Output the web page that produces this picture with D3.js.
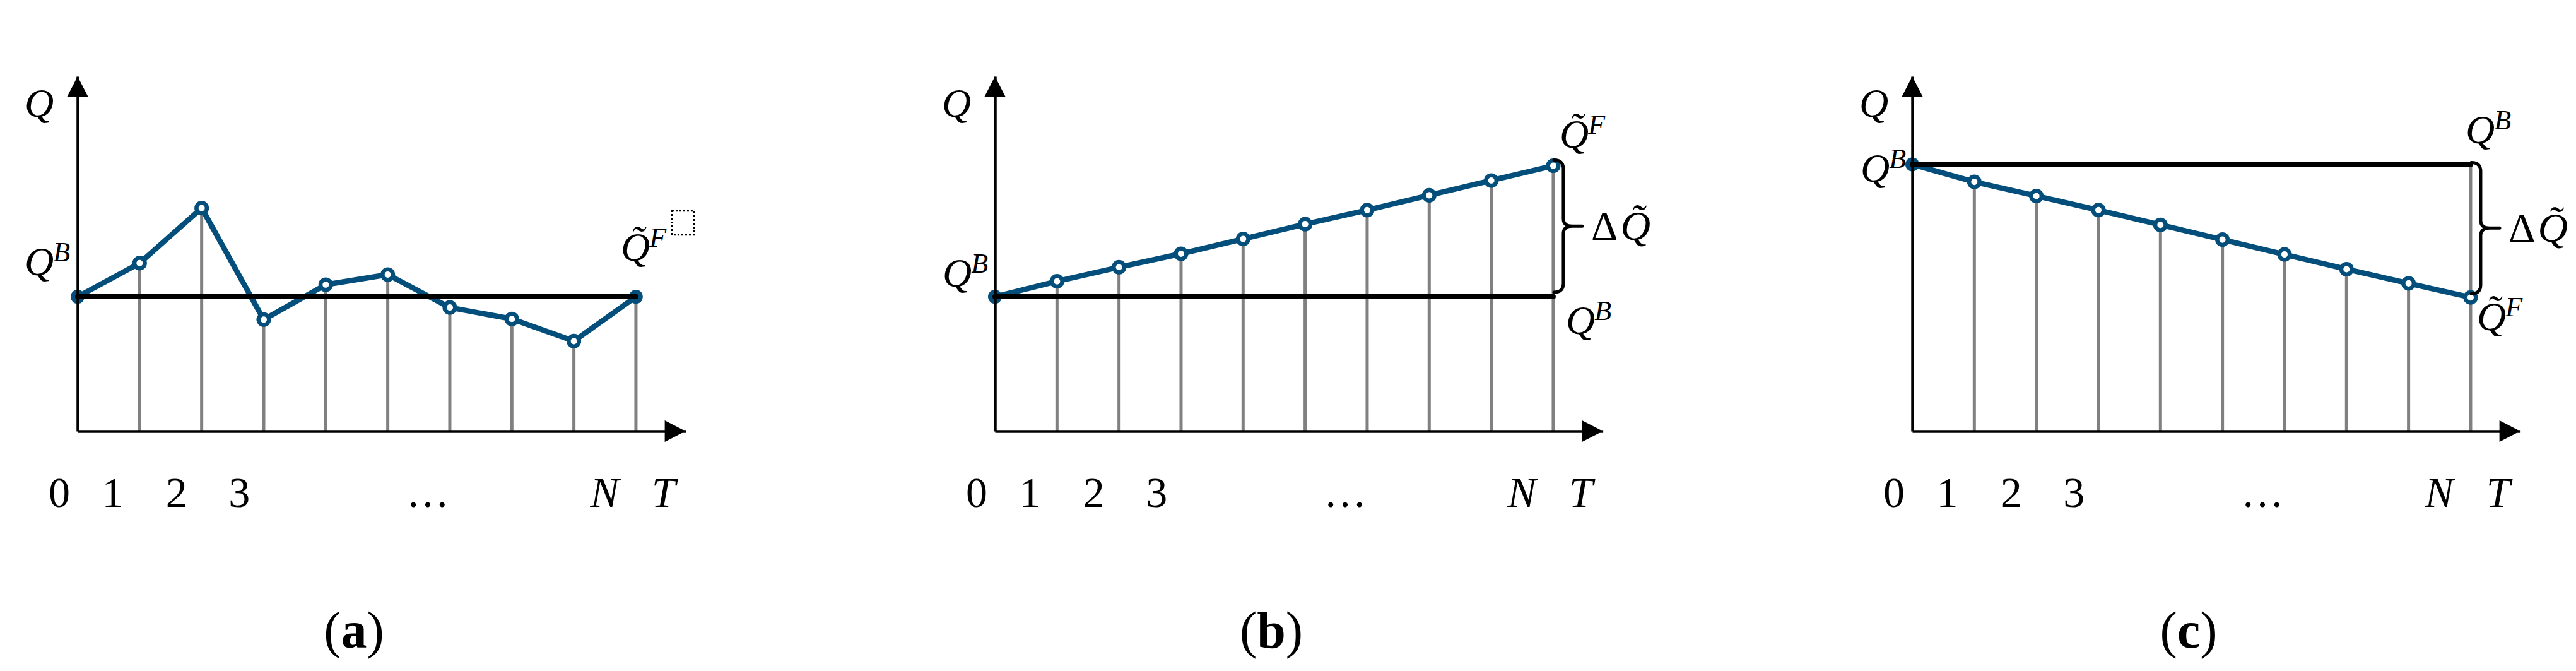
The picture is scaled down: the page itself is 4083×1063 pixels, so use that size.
<!DOCTYPE html>
<html>
<head>
<meta charset="utf-8">
<script src="https://cdn.jsdelivr.net/npm/d3@7"></script>
<style>
  html, body { margin: 0; padding: 0; background: #fff; }
  svg { display: block; }
</style>
</head>
<body>
<svg id="chart" width="4083" height="1063"></svg>
<script>
// ---------- data ----------
const panels = ["a", "b", "c"];
const steps = [0, 1, 2, 3, 4, 5, 6, 7, 8, 9];
const seriesA = [10, 12.5, 16.6, 8.3, 10.9, 11.65, 9.2, 8.35, 6.7, 10];
const seriesB = [10, 11.15, 12.2, 13.2, 14.3, 15.4, 16.45, 17.55, 18.65, 19.75];
const seriesC = [19.85, 18.55, 17.5, 16.45, 15.35, 14.25, 13.15, 12.05, 11.0, 9.95];
const baselines = [10, 10, 19.85];
const xTickLabels = ["0", "1", "2", "3", "\u2026", "N", "T"];
const xTickPos = [-0.3, 0.56, 1.59, 2.6, 5.64, 8.49, 9.44];

// ---------- styles ----------
const BLUE = "#034e7b";
const GRAY = "#808080";
const FONT = "'Liberation Serif', 'Times New Roman', Times, serif";

const svg = d3.select("#chart");
const y = d3.scaleLinear().domain([0, 26.4]).range([683, 121]);
const panelX0 = [123, 1577, 3031];
const allSeries = [seriesA, seriesB, seriesC];

function qLabel(g, x, yb, base, sup, tilde) {
  const t = g.append("text").attr("x", x).attr("y", yb)
    .attr("font-family", FONT).attr("font-style", "italic").attr("font-size", 64).attr("fill", "#000");
  t.append("tspan").text(tilde ? base + "\u0303" : base);
  if (sup) t.append("tspan").attr("font-size", 44).attr("dy", -22).attr("dx", -1).text(sup);
  return t;
}

function brace(g, xl, y1, y2) {
  const xv = xl + 15, xt = xl + 45, ym = (y1 + y2) / 2, r = 14;
  const p = `M${xl},${y1} Q${xv},${y1} ${xv},${y1 + r} L${xv},${ym - 12} Q${xv},${ym} ${xv + 14},${ym} L${xt},${ym}` +
            ` M${xv + 14},${ym} Q${xv},${ym} ${xv},${ym + 12} L${xv},${y2 - r} Q${xv},${y2} ${xl},${y2}`;
  g.append("path").attr("d", p).attr("fill", "none").attr("stroke", "#000").attr("stroke-width", 5)
    .attr("stroke-linecap", "round").attr("stroke-linejoin", "round");
}

panels.forEach((pid, k) => {
  const data = allSeries[k];
  const base = baselines[k];
  const x0 = panelX0[k];
  const x = d3.scaleLinear().domain([0, 9.8]).range([x0, x0 + 963.6]);
  const g = svg.append("g").attr("class", "panel-" + pid);
  const last = data.length - 1;

  // gray drop lines
  g.selectAll("line.drop").data(steps.slice(1)).join("line")
    .attr("class", "drop")
    .attr("x1", i => x(i)).attr("x2", i => x(i))
    .attr("y1", i => i === last ? Math.min(y(data[i]), y(base)) : y(data[i]))
    .attr("y2", y(0))
    .attr("stroke", GRAY).attr("stroke-width", 5);

  // blue series line
  const line = d3.line().x(i => x(i)).y(i => y(data[i]));
  g.append("path").datum(steps).attr("d", line)
    .attr("fill", "none").attr("stroke", BLUE).attr("stroke-width", 8.5).attr("stroke-linejoin", "round");

  // markers
  g.selectAll("circle.pt").data(steps).join("circle")
    .attr("class", "pt")
    .attr("cx", i => x(i)).attr("cy", i => y(data[i]))
    .attr("r", i => data[i] === base ? 11 : 8.3)
    .attr("fill", i => data[i] === base ? BLUE : "#fff")
    .attr("stroke", BLUE).attr("stroke-width", i => data[i] === base ? 0 : 6.5);

  // baseline Q^B
  g.append("line")
    .attr("x1", x(0)).attr("x2", x(9))
    .attr("y1", y(base)).attr("y2", y(base))
    .attr("stroke", "#000").attr("stroke-width", 8).attr("stroke-linecap", "round");

  // axes
  const xAxis = d3.axisBottom(x).tickValues(xTickPos).tickFormat((d, i) => xTickLabels[i])
    .tickSize(0).tickSizeOuter(0).tickPadding(0);
  const gx = g.append("g").attr("transform", `translate(0,${y(0)})`).call(xAxis);
  gx.select(".domain").attr("stroke", "#000").attr("stroke-width", 4.5);
  gx.selectAll(".tick text")
    .attr("y", 120).attr("dy", null)
    .attr("font-family", FONT).attr("font-size", 68).attr("fill", "#000")
    .attr("font-style", d => /[A-Za-z]/.test(xTickLabels[xTickPos.indexOf(d)]) ? "italic" : "normal");

  const yAxis = d3.axisLeft(y).tickValues([]).tickSizeOuter(0);
  const gy = g.append("g").attr("transform", `translate(${x0},0)`).call(yAxis);
  gy.select(".domain").attr("stroke", "#000").attr("stroke-width", 4.5);

  // arrowheads
  const tipX = x(9.8), axY = y(0), tipY = y(26.4);
  g.append("path").attr("d", `M${tipX},${axY} L${tipX - 33},${axY - 17} L${tipX - 33},${axY + 17} Z`).attr("fill", "#000");
  g.append("path").attr("d", `M${x0},${tipY} L${x0 - 17},${tipY + 33} L${x0 + 17},${tipY + 33} Z`).attr("fill", "#000");

  // axis label Q
  qLabel(g, x0 - 84, 185, "Q", null, false);

  const xe = x(last), ye = y(data[last]), yb = y(base);
  if (pid === "a") {
    qLabel(g, x0 - 84, yb - 34, "Q", "B", false);
    qLabel(g, xe - 24, ye - 57, "Q", "F", true);
    g.append("rect").attr("x", xe + 57).attr("y", ye - 136).attr("width", 35).attr("height", 38)
      .attr("fill", "none").attr("stroke", "#000").attr("stroke-width", 2.5).attr("stroke-dasharray", "3,3");
  } else if (pid === "b") {
    qLabel(g, x0 - 83, yb - 16, "Q", "B", false);
    qLabel(g, xe + 10, ye - 29, "Q", "F", true);
    qLabel(g, xe + 20, yb + 59, "Q", "B", false);
    brace(g, xe + 1, ye - 9, yb - 7);
  } else {
    qLabel(g, x0 - 82, yb + 28, "Q", "B", false);
    qLabel(g, xe - 8, yb - 33, "Q", "B", false);
    qLabel(g, xe + 10, ye + 52, "Q", "F", true);
    brace(g, xe + 1, yb - 3, ye - 6);
  }
  // ΔQ̃ label next to brace
  if (pid !== "a") {
    const ymid = pid === "b" ? (ye - 9 + yb - 7) / 2 : (yb - 3 + ye - 6) / 2;
    const t = g.append("text").attr("x", xe + 60).attr("y", ymid + 22)
      .attr("font-family", FONT).attr("font-size", 66).attr("fill", "#000");
    t.append("tspan").text("\u0394");
    t.append("tspan").attr("font-style", "italic").attr("dx", 4).text("Q\u0303");
  }

  // caption
  const cap = g.append("text").attr("x", x0 + 438).attr("y", 1026).attr("text-anchor", "middle")
    .attr("font-family", FONT).attr("font-size", 82).attr("fill", "#000");
  cap.append("tspan").text("(");
  cap.append("tspan").attr("font-weight", "bold").text(pid);
  cap.append("tspan").text(")");
});
</script>
</body>
</html>
